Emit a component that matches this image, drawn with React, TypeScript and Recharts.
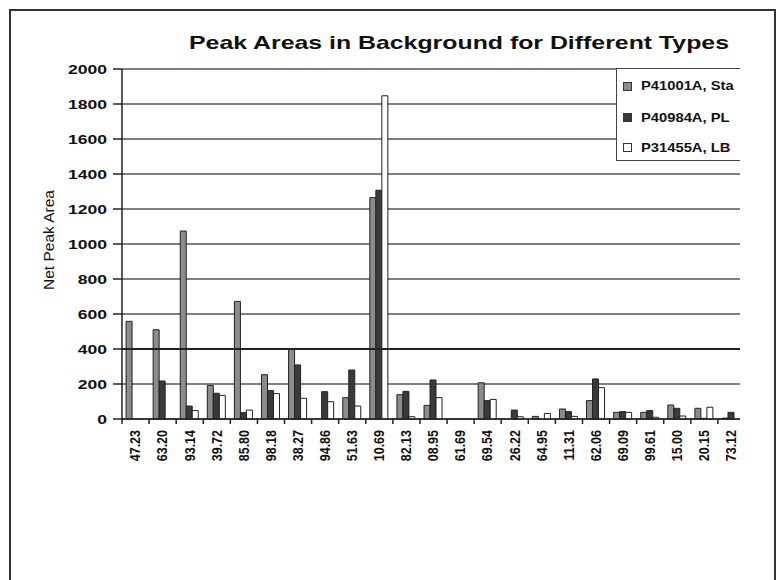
import React from "react";
import { BarChart, Bar, XAxis, YAxis, CartesianGrid, ReferenceLine } from "recharts";

const categories = ["47.23","63.20","93.14","39.72","85.80","98.18","38.27","94.86","51.63","10.69","82.13","08.95","61.69","69.54","26.22","64.95","11.31","62.06","69.09","99.61","15.00","20.15","73.12"];
const seriesGray = [558, 510, 1074, 192, 672, 253, 400, 0, 122, 1265, 139, 78, 0, 207, 0, 15, 57, 105, 38, 38, 80, 61, 5];
const seriesDark = [0, 217, 74, 147, 36, 162, 309, 156, 280, 1307, 158, 223, 0, 105, 51, 0, 42, 229, 42, 48, 61, 4, 38];
const seriesWhite = [0, 0, 48, 135, 51, 145, 118, 99, 74, 1847, 13, 122, 0, 112, 13, 32, 15, 179, 38, 10, 17, 67, 0];
const seriesNames = ["P41001A, Sta", "P40984A, PL", "P31455A, LB"];
const yTicks = [0, 200, 400, 600, 800, 1000, 1200, 1400, 1600, 1800, 2000];

const data = categories.map((c, i) => ({
  cat: c,
  gray: seriesGray[i],
  dark: seriesDark[i],
  white: seriesWhite[i],
}));

const FONT = "'Liberation Sans', Arial, sans-serif";
const GRAY = "#8c8c8c";
const DARK = "#3a3a3a";
const WHITE = "#ffffff";
const PLOT_LEFT = 122;
const PLOT_RIGHT = 745;
const BAND = (PLOT_RIGHT - PLOT_LEFT) / categories.length;

const XTick = (props: any) => {
  const { x, y, payload } = props;
  const bx = x - BAND / 2;
  return (
    <g>
      <line x1={bx} y1={y} x2={bx} y2={y + 5} stroke="#222" strokeWidth={1.5} />
      <text
        transform={`translate(${x},${y + 11}) scale(1.1,1) rotate(-90)`}
        textAnchor="end"
        dy="0.35em"
        fontFamily={FONT}
        fontWeight="bold"
        fontSize={12.5}
        fill="#111"
      >
        {payload.value}
      </text>
    </g>
  );
};

const YTick = (props: any) => {
  const { x, y, payload } = props;
  return (
    <text
      transform={`translate(${x},${y}) scale(1.3,1)`}
      textAnchor="end"
      dy="0.35em"
      fontFamily={FONT}
      fontWeight="bold"
      fontSize={13.5}
      fill="#111"
    >
      {payload.value}
    </text>
  );
};

const legendColors = [GRAY, DARK, WHITE];
const legendTops = [85, 116.5, 146.5];

export default function App() {
  return (
    <div style={{ position: "absolute", left: 0, top: 0, width: 780, height: 580, background: "#fff", overflow: "hidden" }}>
      <div
        style={{
          position: "absolute",
          left: 9,
          top: 9,
          width: 767,
          height: 600,
          boxSizing: "border-box",
          borderLeft: "2px solid #333",
          borderTop: "2px solid #333",
          borderRight: "2px solid #333",
        }}
      />
      <div style={{ position: "absolute", left: 0, top: 0, width: 740, height: 580, overflow: "hidden" }}>
        <BarChart
          width={780}
          height={580}
          data={data}
          margin={{ top: 69, right: 780 - PLOT_RIGHT, left: PLOT_LEFT - 60, bottom: 580 - 419 - 60 }}
          barCategoryGap="15%"
          barGap={0}
        >
          <CartesianGrid vertical={false} stroke="#555" strokeWidth={1.5} />
          <ReferenceLine y={400} stroke="#222" strokeWidth={2.2} />
          <XAxis
            dataKey="cat"
            interval={0}
            tickSize={0}
            tickMargin={0}
            height={60}
            tick={<XTick />}
            axisLine={{ stroke: "#222", strokeWidth: 1.5 }}
            tickLine={false}
          />
          <YAxis
            width={60}
            domain={[0, 2000]}
            ticks={yTicks}
            interval={0}
            tickSize={9}
            tickMargin={6}
            tick={<YTick />}
            axisLine={{ stroke: "#222", strokeWidth: 1.5 }}
            tickLine={{ stroke: "#222", strokeWidth: 1.5 }}
          />
          <Bar dataKey="gray" name={seriesNames[0]} fill={GRAY} stroke="#222" strokeWidth={1} isAnimationActive={false} />
          <Bar dataKey="dark" name={seriesNames[1]} fill={DARK} stroke="#222" strokeWidth={1} isAnimationActive={false} />
          <Bar dataKey="white" name={seriesNames[2]} fill={WHITE} stroke="#222" strokeWidth={1} isAnimationActive={false} />
        </BarChart>
        <div
          style={{
            position: "absolute",
            left: 616,
            top: 68,
            width: 170,
            height: 93,
            boxSizing: "border-box",
            border: "1.5px solid #444",
            background: "#fff",
          }}
        >
          {seriesNames.map((n, i) => (
            <div
              key={n}
              style={{
                position: "absolute",
                left: 6,
                top: legendTops[i] - 68 - 9,
                height: 18,
                display: "flex",
                alignItems: "center",
                whiteSpace: "nowrap",
              }}
            >
              <span
                style={{
                  display: "inline-block",
                  width: 7,
                  height: 7,
                  background: legendColors[i],
                  border: "1px solid #333",
                  marginRight: 9,
                }}
              />
              <span
                style={{
                  fontFamily: FONT,
                  fontWeight: "bold",
                  fontSize: 12.5,
                  color: "#111",
                  display: "inline-block",
                  transform: "scaleX(1.18)",
                  transformOrigin: "left center",
                }}
              >
                {n}
              </span>
            </div>
          ))}
        </div>
      </div>
      <svg width={780} height={580} style={{ position: "absolute", left: 0, top: 0, pointerEvents: "none" }}>
        <text
          x={459}
          y={48.5}
          textAnchor="middle"
          textLength={540}
          lengthAdjust="spacingAndGlyphs"
          fontFamily={FONT}
          fontWeight="bold"
          fontSize={19}
          fill="#111"
        >
          Peak Areas in Background for Different Types
        </text>
        <text
          transform="translate(49,240) rotate(-90)"
          textAnchor="middle"
          dy="0.35em"
          fontFamily={FONT}
          fontSize={15.5}
          fill="#111"
        >
          Net Peak Area
        </text>
      </svg>
    </div>
  );
}
